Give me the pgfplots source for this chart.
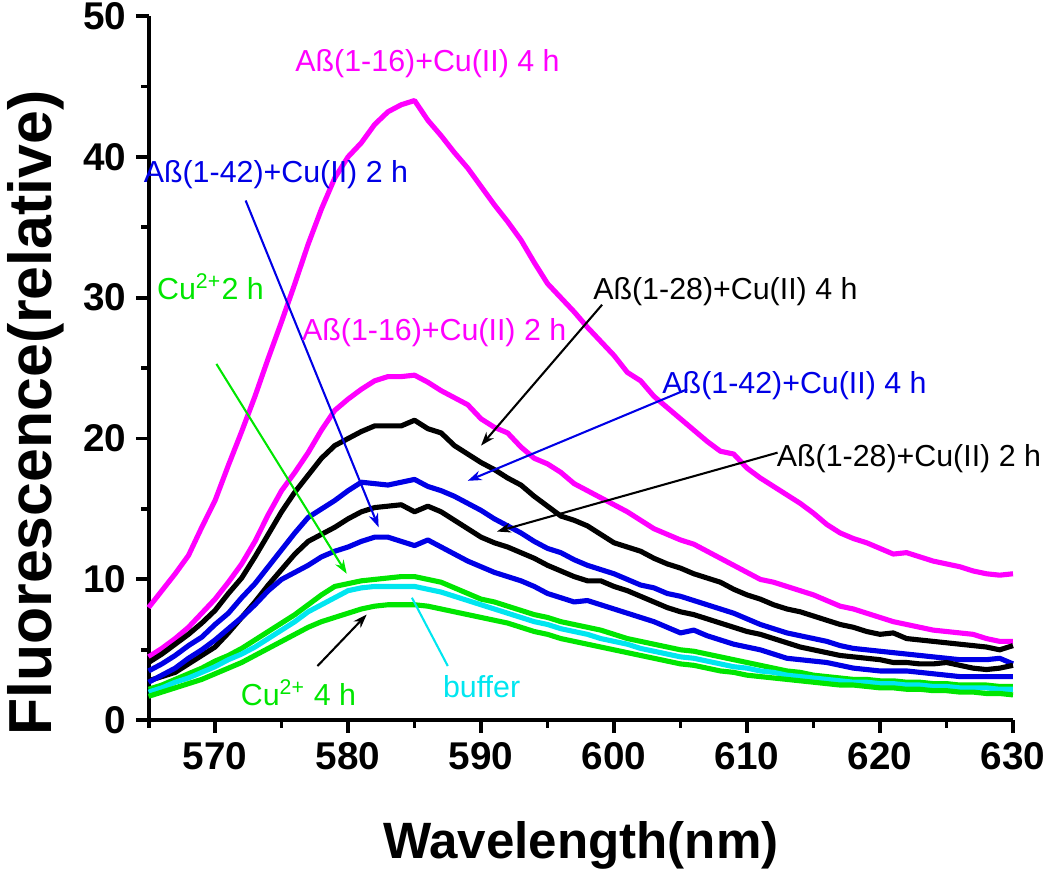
\documentclass[border=0pt]{standalone}
\usepackage{pgfplots}
\pgfplotsset{compat=1.18}
\usepackage{pgfplotstable}
\usepackage{fontspec}
\setmainfont{Liberation Sans}
\usetikzlibrary{arrows.meta}
\definecolor{mag}{RGB}{255,0,255}
\definecolor{myblue}{RGB}{0,0,230}
\definecolor{mygreen}{RGB}{0,230,0}
\definecolor{mycyan}{RGB}{0,230,240}

\pgfplotstableread{
nm M4 M2 K4 K2 U4 U2 G2 C G4
565 8.0 4.5 4.1 2.8 3.5 2.7 2.2 2.0 1.7
566 9.2 5.1 4.7 3.1 4.0 3.2 2.5 2.3 2.0
567 10.4 5.8 5.4 3.4 4.6 3.7 2.9 2.7 2.3
568 11.7 6.6 6.1 4.0 5.3 4.4 3.3 3.0 2.6
569 13.7 7.6 6.9 4.6 5.9 5.0 3.7 3.4 2.9
570 15.6 8.6 7.8 5.2 6.8 5.7 4.2 3.8 3.3
571 18.1 9.8 9.0 6.2 7.6 6.5 4.6 4.3 3.7
572 20.5 11.1 10.1 7.3 8.7 7.3 5.1 4.7 4.1
573 23.0 12.7 11.6 8.4 9.7 8.2 5.7 5.2 4.6
574 25.7 14.6 13.2 9.6 10.9 9.2 6.3 5.8 5.1
575 28.3 16.3 14.8 10.7 12.1 10.0 6.9 6.4 5.6
576 31.0 17.6 16.2 11.8 13.3 10.5 7.5 7.0 6.1
577 33.8 19.0 17.4 12.7 14.4 11.0 8.2 7.7 6.6
578 36.3 20.6 18.6 13.2 15.0 11.6 8.9 8.2 7.0
579 38.5 22.0 19.5 13.7 15.6 12.0 9.5 8.7 7.3
580 40.0 22.8 20.0 14.3 16.3 12.3 9.7 9.2 7.6
581 41.0 23.5 20.5 14.8 16.9 12.7 9.9 9.4 7.9
582 42.3 24.1 20.9 15.1 16.8 13.0 10.0 9.5 8.1
583 43.2 24.4 20.9 15.2 16.7 13.0 10.1 9.5 8.2
584 43.7 24.4 20.9 15.3 16.9 12.7 10.2 9.5 8.2
585 44.0 24.5 21.3 14.8 17.1 12.4 10.2 9.5 8.2
586 42.6 24.0 20.7 15.2 16.6 12.8 10.0 9.3 8.1
587 41.5 23.4 20.4 14.8 16.3 12.3 9.8 9.1 7.9
588 40.3 22.9 19.5 14.2 15.9 11.8 9.4 8.8 7.7
589 39.2 22.4 18.9 13.6 15.4 11.3 9.0 8.5 7.5
590 37.9 21.4 18.3 13.0 14.9 10.9 8.6 8.2 7.3
591 36.6 20.8 17.8 12.6 14.3 10.5 8.4 7.9 7.1
592 35.4 20.4 17.2 12.3 13.8 10.2 8.1 7.6 6.9
593 34.1 19.4 16.7 11.9 13.3 9.9 7.8 7.3 6.6
594 32.5 18.6 15.9 11.5 12.7 9.5 7.5 7.0 6.3
595 31.0 18.2 15.2 11.0 12.2 9.0 7.3 6.8 6.1
596 30.0 17.6 14.5 10.6 11.9 8.7 7.0 6.5 5.8
597 29.0 16.8 14.2 10.2 11.4 8.4 6.8 6.3 5.6
598 27.9 16.3 13.8 9.9 11.0 8.5 6.6 6.1 5.4
599 26.9 15.8 13.2 9.9 10.7 8.2 6.4 5.8 5.2
600 25.9 15.3 12.6 9.5 10.4 7.9 6.1 5.6 5.0
601 24.7 14.8 12.3 9.2 10.0 7.6 5.8 5.4 4.8
602 24.1 14.2 12.0 8.8 9.6 7.3 5.6 5.1 4.6
603 23.0 13.6 11.5 8.4 9.4 7.0 5.4 4.9 4.4
604 22.2 13.2 11.1 8.0 9.0 6.6 5.2 4.7 4.2
605 21.4 12.8 10.8 7.7 8.8 6.2 5.0 4.5 4.0
606 20.6 12.5 10.4 7.5 8.5 6.4 4.9 4.4 3.9
607 19.8 12.0 10.1 7.2 8.2 6.0 4.7 4.2 3.7
608 19.1 11.5 9.8 6.9 7.9 5.7 4.5 4.0 3.5
609 18.9 11.0 9.3 6.6 7.6 5.4 4.3 3.8 3.4
610 17.9 10.5 8.9 6.3 7.2 5.2 4.1 3.7 3.2
611 17.2 10.0 8.6 6.1 6.8 5.0 3.9 3.5 3.1
612 16.6 9.8 8.2 5.8 6.5 4.7 3.7 3.4 3.0
613 16.0 9.5 7.9 5.5 6.2 4.4 3.5 3.2 2.9
614 15.4 9.2 7.7 5.2 6.0 4.3 3.4 3.1 2.8
615 14.7 8.9 7.4 5.0 5.8 4.2 3.2 3.0 2.7
616 13.9 8.5 7.1 4.8 5.6 4.1 3.1 2.9 2.6
617 13.3 8.1 6.8 4.6 5.3 3.9 3.0 2.8 2.5
618 12.9 7.9 6.6 4.5 5.1 3.7 2.9 2.7 2.5
619 12.6 7.6 6.3 4.4 5.0 3.6 2.9 2.7 2.4
620 12.2 7.3 6.1 4.3 4.9 3.5 2.8 2.6 2.3
621 11.8 7.0 6.2 4.1 4.8 3.5 2.8 2.6 2.3
622 11.9 6.8 5.8 4.1 4.7 3.5 2.7 2.5 2.2
623 11.6 6.6 5.7 4.0 4.6 3.4 2.7 2.5 2.2
624 11.3 6.4 5.6 4.0 4.5 3.3 2.6 2.4 2.1
625 11.1 6.3 5.5 4.1 4.4 3.2 2.6 2.4 2.1
626 10.9 6.2 5.4 3.9 4.3 3.1 2.5 2.3 2.0
627 10.6 6.1 5.3 3.7 4.3 3.1 2.5 2.3 2.0
628 10.4 5.8 5.2 3.6 4.3 3.1 2.5 2.3 1.9
629 10.3 5.6 5.0 3.7 4.4 3.1 2.4 2.2 1.9
630 10.4 5.6 5.3 3.9 4.0 3.1 2.4 2.2 1.8
}\spectra

\begin{document}
\begin{tikzpicture}
\path[use as bounding box] (-53.8pt,-55pt) rectangle (326.4pt,260.8pt);
\begin{axis}[
  at={(0,0)}, anchor=south west,
  scale only axis, width=313pt, height=255pt,
  xmin=565, xmax=630, ymin=0, ymax=50,
  axis lines*=left,
  clip=false,
  xtick={570,580,...,630}, minor xtick={565,575,...,625},
  ytick={0,10,...,50}, minor ytick={5,15,...,45},
  tick align=outside,
  major tick length=4.6pt, minor tick length=2.7pt,
  every tick/.style={black, line width=1.4pt},
  axis line style={line width=1.5pt},
  /pgf/number format/assume math mode=true,
  ticklabel style={font=\bfseries\fontsize{14}{15}\selectfont},
  xlabel={Wavelength(nm)},
  ylabel={Fluorescence(relative)},
  xlabel style={font=\bfseries\fontsize{18.5}{20}\selectfont, at={(axis description cs:0.5,-0.197)}, anchor=base},
  ylabel style={font=\bfseries\fontsize{22}{24}\selectfont, at={(axis description cs:-0.131,0.436)}, anchor=center},
  every axis plot/.append style={line width=1.85pt, line join=round},
]
\addplot[mag] table[x=nm,y=M4] {\spectra};
\addplot[mag] table[x=nm,y=M2] {\spectra};
\addplot[black] table[x=nm,y=K4] {\spectra};
\addplot[myblue] table[x=nm,y=U4] {\spectra};
\addplot[black] table[x=nm,y=K2] {\spectra};
\addplot[myblue] table[x=nm,y=U2] {\spectra};
\addplot[mygreen] table[x=nm,y=G2] {\spectra};
\addplot[mycyan] table[x=nm,y=C] {\spectra};
\addplot[mygreen] table[x=nm,y=G4] {\spectra};

% annotations
\tikzset{lab/.style={inner sep=0pt, anchor=base west, font=\fontsize{11}{12}\selectfont},
         arr/.style={line width=0.75pt, -{Stealth[length=5pt,width=3.5pt]}}}
\node[lab, text=mag] at (axis cs:576.0,46.05) {Aß(1-16)+Cu(II) 4 h};
\node[lab, text=myblue] at (axis cs:564.6,38.15) {Aß(1-42)+Cu(II) 2 h};
\draw[arr, myblue] (axis cs:572.3,36.9) -- (axis cs:582.3,13.7);
\node[lab, text=mygreen] at (axis cs:565.6,29.85) {Cu\textsuperscript{2+}2 h};
\draw[arr, mygreen] (axis cs:570.1,25.3) -- (axis cs:579.9,10.4);
\node[lab, text=mag] at (axis cs:576.5,26.95) {Aß(1-16)+Cu(II) 2 h};
\node[lab, text=black] at (axis cs:598.4,29.9) {Aß(1-28)+Cu(II) 4 h};
\draw[arr, black] (axis cs:599.1,29.5) -- (axis cs:590.0,19.5);
\node[lab, text=myblue] at (axis cs:603.6,23.2) {Aß(1-42)+Cu(II) 4 h};
\draw[arr, myblue] (axis cs:605.5,23.5) -- (axis cs:589.0,17.0);
\node[lab, text=black] at (axis cs:612.2,18.0) {Aß(1-28)+Cu(II) 2 h};
\draw[arr, black] (axis cs:612.3,19.0) -- (axis cs:591.2,13.4);
\node[lab, text=mygreen] at (axis cs:571.9,1.05) {Cu\textsuperscript{2+} 4 h};
\draw[arr, black] (axis cs:577.7,3.85) -- (axis cs:581.4,7.5);
\node[lab, text=mycyan] at (axis cs:587.1,1.65) {buffer};
\draw[line width=0.75pt, mycyan] (axis cs:587.5,3.85) -- (axis cs:584.8,8.7);
\end{axis}
\end{tikzpicture}
\end{document}
